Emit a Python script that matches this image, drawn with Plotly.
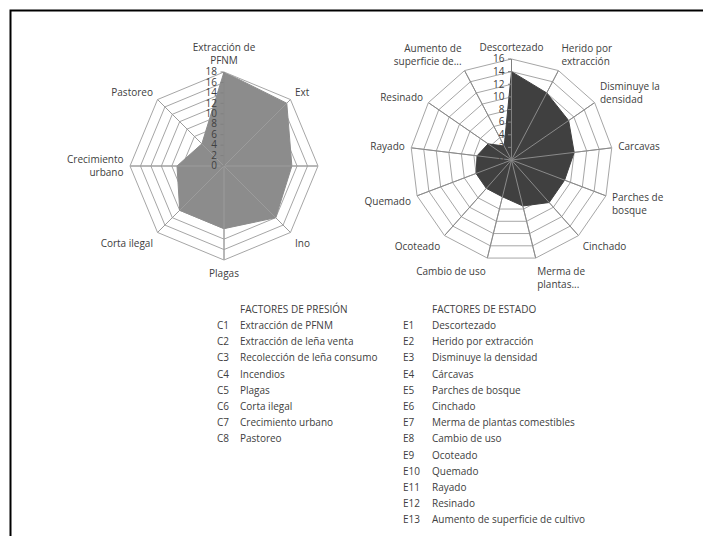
import plotly.graph_objects as go

# ---- Data ----
presion_codes = ["C1", "C2", "C3", "C4", "C5", "C6", "C7", "C8"]
presion_names = ["Extracción de PFNM", "Extracción de leña venta", "Recolección de leña consumo",
                 "Incendios", "Plagas", "Corta ilegal", "Crecimiento urbano", "Pastoreo"]
presion_values = [18, 17, 13, 14, 12, 12, 9, 6]
presion_ticklabels = ["Extracción de<br>PFNM", "Ext", "", "Ino", "Plagas", "Corta ilegal",
                      "Crecimiento<br>urbano", "Pastoreo"]

estado_codes = ["E1", "E2", "E3", "E4", "E5", "E6", "E7", "E8", "E9", "E10", "E11", "E12", "E13"]
estado_names = ["Descortezado", "Herido por extracción", "Disminuye la densidad", "Cárcavas",
                "Parches de bosque", "Cinchado", "Merma de plantas comestibles", "Cambio de uso",
                "Ocoteado", "Quemado", "Rayado", "Resinado", "Aumento de superficie de cultivo"]
estado_values = [14, 12, 11, 10, 9, 9, 7.5, 6, 6, 6, 5.5, 4.5, 2.5]
estado_ticklabels = ["Descortezado", "Herido por<br>extracción", "Disminuye la<br>densidad", "Carcavas",
                     "Parches de<br>bosque", "Cinchado", "Merma de<br>plantas...", "Cambio de uso",
                     "Ocoteado", "Quemado", "Rayado", "Resinado", "Aumento de<br>superficie de..."]

presion_ticks = [0, 2, 4, 6, 8, 10, 12, 14, 16, 18]
estado_ticks = [0, 2, 4, 6, 8, 10, 12, 14, 16]

W, H = 703, 536
FONT = "Open Sans"
TXT = "#404040"
GRID = "#a6a6a6"

fig = go.Figure()


def add_radar(names, values, ticks, color, spoke_color, subplot):
    fig.add_trace(go.Scatterpolar(
        r=values + values[:1], theta=names + names[:1],
        mode="lines", fill="toself", fillcolor=color, line=dict(color=color, width=1),
        subplot=subplot, showlegend=False, hoverinfo="skip"))
    # category spokes drawn over the filled area (as in the original)
    for n in names:
        fig.add_trace(go.Scatterpolar(
            r=[ticks[0], ticks[-1]], theta=[n, n], mode="lines",
            line=dict(color=spoke_color, width=1), subplot=subplot,
            showlegend=False, hoverinfo="skip"))


add_radar(presion_names, presion_values, presion_ticks, "#8c8c8c", "#9c9c9c", "polar")
add_radar(estado_names, estado_values, estado_ticks, "#404040", "#8a8a8a", "polar2")


def px_dom(cx, cy, R):
    return dict(x=[(cx - R) / W, (cx + R) / W], y=[(H - cy - R) / H, (H - cy + R) / H])


def polar_layout(dom, names, ticklabels, ticks):
    return dict(
        domain=dom, bgcolor="white", gridshape="linear",
        angularaxis=dict(type="category", categoryarray=names, direction="clockwise", rotation=90,
                         tickmode="array", tickvals=names, ticktext=ticklabels,
                         showgrid=True, gridcolor=GRID, gridwidth=1, showline=True, linecolor=GRID,
                         linewidth=1, ticks="outside", ticklen=4, tickcolor="rgba(0,0,0,0)",
                         tickfont=dict(family=FONT, size=10, color=TXT)),
        radialaxis=dict(range=[0, ticks[-1]], tickmode="array", tickvals=ticks, angle=90, tickangle=90,
                        side="counterclockwise", showgrid=True, gridcolor=GRID, gridwidth=1,
                        showline=True, linecolor="#808080", linewidth=1, ticks="outside", ticklen=3,
                        tickcolor="#808080", layer="above traces",
                        tickfont=dict(family=FONT, size=10, color=TXT)),
    )


fig.update_layout(
    width=W, height=H, margin=dict(l=0, r=0, t=0, b=0),
    paper_bgcolor="white", plot_bgcolor="white", showlegend=False,
    polar=polar_layout(px_dom(224, 166, 94), presion_names, presion_ticklabels, presion_ticks),
    polar2=polar_layout(px_dom(511.5, 160, 101), estado_names, estado_ticklabels, estado_ticks),
)

# frame
fig.add_shape(type="rect", xref="paper", yref="paper", x0=10.5 / W, x1=1.05, y0=-0.05, y1=1 - 10.5 / H,
              line=dict(color="black", width=2), fillcolor="rgba(0,0,0,0)")

# key tables
ROW0, DY = 325, 16.2
ann = []


def add_text(x, y, t):
    ann.append(dict(x=x / W, y=1 - y / H, xref="paper", yref="paper", text=t, showarrow=False,
                    xanchor="left", yanchor="middle", font=dict(family=FONT, size=10, color=TXT)))


add_text(238, 309, "FACTORES DE PRESIÓN")
for i, (c, n) in enumerate(zip(presion_codes, presion_names)):
    add_text(215, ROW0 + i * DY, c)
    add_text(238, ROW0 + i * DY, n)
add_text(430, 309, "FACTORES DE ESTADO")
for i, (c, n) in enumerate(zip(estado_codes, estado_names)):
    add_text(401, ROW0 + i * DY, c)
    add_text(430, ROW0 + i * DY, n)
fig.update_layout(annotations=ann)

fig.write_html("out.html", config={"displayModeBar": False},
               post_script="document.body.style.margin='0';")
